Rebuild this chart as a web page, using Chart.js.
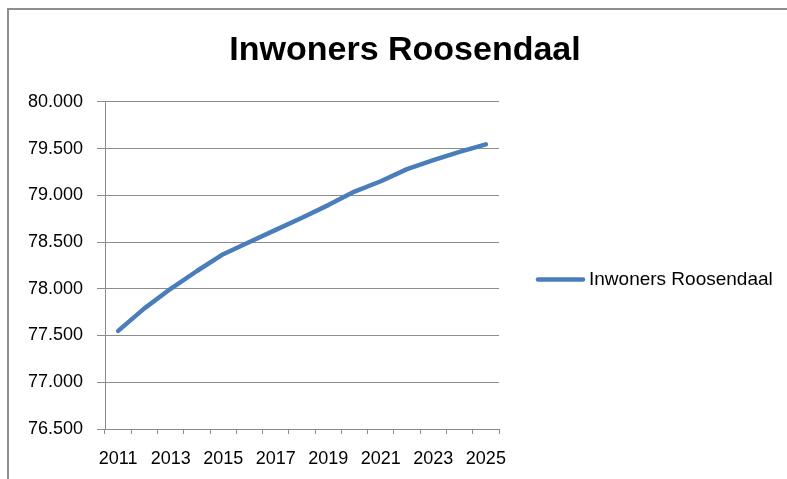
<!DOCTYPE html>
<html>
<head>
<meta charset="utf-8">
<title>Inwoners Roosendaal</title>
<script src="https://cdn.jsdelivr.net/npm/chart.js@4/dist/chart.umd.min.js"></script>
<style>
    html, body { margin: 0; padding: 0; background: #fff; overflow: hidden; }
    #frame {
        position: absolute; left: 7px; top: 8px; width: 820px; height: 500px;
        border: 2px solid #8e8e8e; box-sizing: border-box;
    }
    #chart { position: absolute; left: 0; top: 0; }
</style>
</head>
<body>
<div id="frame"></div>
<canvas id="chart" width="787" height="479"></canvas>
<script>
// Inwoners Roosendaal, 2011 - 2025
const years = ['2011', '2012', '2013', '2014', '2015', '2016', '2017', '2018',
    '2019', '2020', '2021', '2022', '2023', '2024', '2025'];
const inwoners = [77550, 77790, 78000, 78190, 78370, 78500, 78630, 78760,
    78895, 79040, 79150, 79280, 79375, 79465, 79545];
const yTicks = { min: 76500, max: 80000, step: 500 };

const FONT = "'Liberation Sans', Arial, sans-serif";
const GRID = '#8c8c8c';

function dutchNumber(v) {
    return String(v).replace(/\B(?=(\d{3})+(?!\d))/g, '.');
}

// legend to the right of the plot, Excel style (line sample + label)
const sideLegend = {
    id: 'sideLegend',
    afterDraw: function (chart) {
        const ctx = chart.ctx;
        const area = chart.chartArea;
        const x = area.right + 39;
        const y = (area.top + area.bottom) / 2 + 14;
        chart.data.datasets.forEach(function (ds, i) {
            const yy = y + i * 26;
            ctx.save();
            ctx.strokeStyle = ds.borderColor;
            ctx.lineWidth = ds.borderWidth;
            ctx.lineCap = 'round';
            ctx.beginPath();
            ctx.moveTo(x, yy);
            ctx.lineTo(x + 45, yy);
            ctx.stroke();
            ctx.fillStyle = '#000';
            ctx.font = '19px ' + FONT;
            ctx.textBaseline = 'middle';
            ctx.fillText(ds.label, x + 51, yy);
            ctx.restore();
        });
    },
};

new Chart(document.getElementById('chart'), {
    type: 'line',
    data: {
        labels: years,
        datasets: [{
            label: 'Inwoners Roosendaal',
            data: inwoners,
            borderColor: '#4a7ebb',
            backgroundColor: '#4a7ebb',
            borderWidth: 4.5,
            borderCapStyle: 'round',
            borderJoinStyle: 'round',
            pointRadius: 0,
            tension: 0,
            fill: false,
        }],
    },
    options: {
        responsive: false,
        animation: false,
        layout: { padding: { left: 23, right: 0, top: 0, bottom: 0 } },
        plugins: {
            title: {
                display: true,
                text: 'Inwoners Roosendaal',
                color: '#000',
                font: { family: FONT, size: 34, weight: 'bold' },
                padding: { top: 30, bottom: 31 },
            },
            legend: { display: false },
            tooltip: { enabled: false },
        },
        scales: {
            x: {
                offset: true,
                grid: {
                    offset: true,
                    drawOnChartArea: false,
                    drawTicks: true,
                    tickLength: 5,
                    color: GRID,
                },
                border: { color: GRID, width: 1 },
                ticks: {
                    autoSkip: false,
                    maxRotation: 0,
                    color: '#000',
                    padding: 14,
                    font: { family: FONT, size: 18 },
                    callback: function (_, index) {
                        return index % 2 === 0 ? years[index] : '';
                    },
                },
                afterFit: function (scale) { scale.height = 50; },
            },
            y: {
                min: yTicks.min,
                max: yTicks.max,
                grid: { color: GRID, tickLength: 8 },
                border: { color: GRID, width: 1 },
                ticks: {
                    stepSize: yTicks.step,
                    color: '#000',
                    padding: 14,
                    font: { family: FONT, size: 18 },
                    callback: function (value) { return dutchNumber(value); },
                },
                afterFit: function (scale) { scale.width = 82; },
            },
            // empty right-hand axis: reserves the room the legend sits in
            side: {
                position: 'right',
                grid: { display: false },
                border: { display: false },
                ticks: { display: false },
                afterFit: function (scale) { scale.width = 288; },
            },
        },
    },
    plugins: [sideLegend],
});
</script>
</body>
</html>
